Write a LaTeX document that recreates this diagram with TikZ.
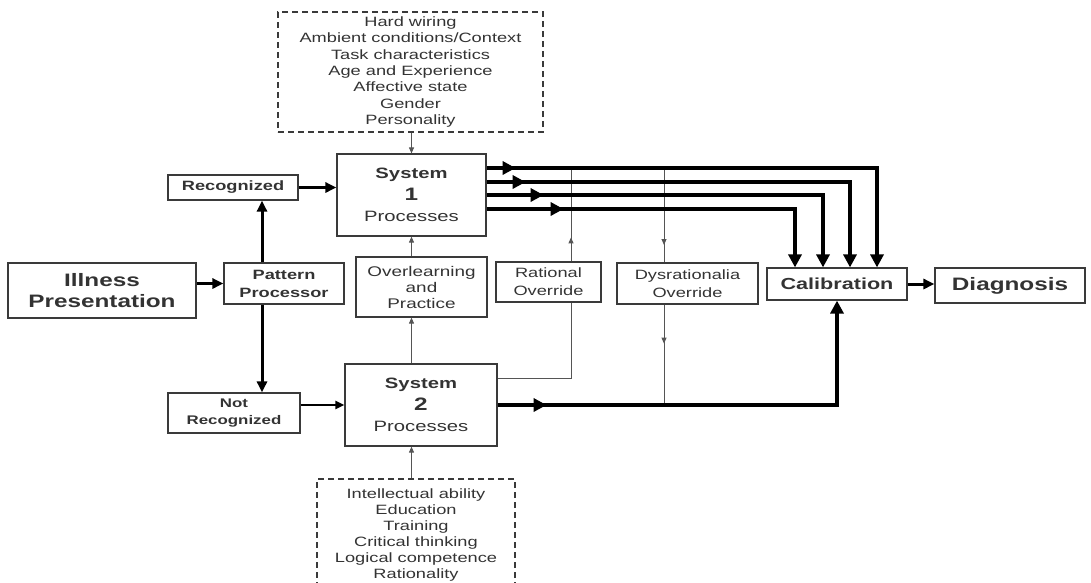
\documentclass[tikz,border=0pt]{standalone}
\usepackage{fontspec}
\setmainfont{Liberation Sans}[FakeStretch=1.35]
\usetikzlibrary{arrows.meta,calc,decorations.markings}
\definecolor{txt}{HTML}{333333}
\definecolor{ln}{HTML}{3a3a3a}
\definecolor{thinln}{HTML}{555555}
\newcommand{\fsz}[2]{\fontsize{#1}{#2}\selectfont}
\tikzset{
  boxn/.style={draw=ln, line width=1.2pt, rectangle, inner sep=0pt, align=center, text=txt},
  dbox/.style={boxn, dash pattern=on 6pt off 4pt},
  bigline/.style={draw=black, line width=4.5pt},
  bigtip/.style={-{Triangle[length=13pt,width=13pt]}, bigline},
  medarr/.style={draw=black, line width=3pt, -{Triangle[length=11pt,width=10pt]}},
  smallarr/.style={draw=black, line width=2pt, -{Triangle[length=9pt,width=8pt]}},
  thinline/.style={draw=thinln, line width=1pt},
  thinarr/.style={thinline, -{Triangle[length=6pt,width=5pt]}},
  midbig/.style={postaction={decorate}, decoration={markings, mark=at position #1 with {\arrow{Triangle[length=13pt,width=13pt]}}}},
  midthin/.style={postaction={decorate}, decoration={markings, mark=at position #1 with {\arrow[thinln]{Triangle[length=6pt,width=5pt]}}}},
  sysbox/.style={boxn, font=\fsz{15}{21.5}},
}
\begin{document}
\begin{tikzpicture}[x=1pt,y=-1pt]
\useasboundingbox (0,0) rectangle (1091,582);
\clip (0,0) rectangle (1091,582);

% nodes
\node[dbox, minimum width=265pt, minimum height=120pt, font=\fsz{13.5}{16.3}] (hw) at (410.5,72)
  {Hard wiring\\Ambient conditions/Context\\Task characteristics\\Age and Experience\\Affective state\\Gender\\Personality};
\node[sysbox, minimum width=149pt, minimum height=82pt] (s1) at (411.5,195)
  {{\bfseries System}\\{\fontsize{18}{21.5}\selectfont\bfseries 1}\\Processes};
\node[boxn, minimum width=130pt, minimum height=25pt, font=\fsz{13.5}{16}\bfseries] (rec) at (233,187.5) {Recognized};
\node[boxn, minimum width=188pt, minimum height=55pt, font=\fsz{18}{21}\bfseries] (ill) at (102,290.5) {Illness\\Presentation};
\node[boxn, minimum width=120pt, minimum height=41pt, font=\fsz{13.5}{18}\bfseries] (pat) at (284,283.5) {Pattern\\Processor};
\node[boxn, minimum width=132pt, minimum height=40pt, font=\fsz{12.5}{17}\bfseries] (notrec) at (234,413) {Not\\Recognized};
\node[sysbox, minimum width=152pt, minimum height=82pt] (s2) at (421,405)
  {{\bfseries System}\\{\fontsize{18}{21.5}\selectfont\bfseries 2}\\Processes};
\node[boxn, minimum width=131pt, minimum height=60pt, font=\fsz{14}{16}] (over) at (421.5,287) {Overlearning\\and\\Practice};
\node[boxn, minimum width=105pt, minimum height=40pt, font=\fsz{13.5}{18}] (rat) at (548.5,282) {Rational\\Override};
\node[boxn, minimum width=141pt, minimum height=41pt, font=\fsz{13.5}{18}] (dys) at (687.5,283.5) {Dysrationalia\\Override};
\node[boxn, minimum width=140pt, minimum height=32pt, font=\fsz{16}{18}\bfseries] (cal) at (837,284) {Calibration};
\node[boxn, minimum width=150pt, minimum height=35pt, font=\fsz{18}{20}\bfseries] (diag) at (1010,285.5) {Diagnosis};
\node[dbox, minimum width=198pt, minimum height=111pt, font=\fsz{13.5}{16}] (bot) at (416,534.5)
  {Intellectual ability\\Education\\Training\\Critical thinking\\Logical competence\\Rationality};

% coordinates of the four System 1 output lines
\coordinate (o1) at ($(s1.east)+(0,-27)$);
\coordinate (o2) at ($(s1.east)+(0,-13)$);
\coordinate (o3) at ($(s1.east)+(0,0)$);
\coordinate (o4) at ($(s1.east)+(0,14)$);
\coordinate (c1) at ($(cal.north)+(40,0)$);
\coordinate (c2) at ($(cal.north)+(13,0)$);
\coordinate (c3) at ($(cal.north)+(-14,0)$);
\coordinate (c4) at ($(cal.north)+(-42,0)$);
\coordinate (ratT) at ($(rat.north)+(22.5,0)$);
\coordinate (ratB) at ($(rat.south)+(22.5,0)$);
\coordinate (dysT) at ($(dys.north)+(-23.5,0)$);
\coordinate (dysB) at ($(dys.south)+(-23.5,0)$);
\coordinate (s2r) at ($(s2.east)+(0,-27)$);
\coordinate (pu) at ($(pat.north)+(-22,0)$);
\coordinate (pd) at ($(pat.south)+(-22,0)$);

% thin connectors
\draw[thinarr] (hw.south -| s1.north) -- (s1.north);
\draw[thinarr] (over.north -| s1.south) -- (s1.south);
\draw[thinarr] (s2.north -| s1.south) -- (over.south -| s1.south);
\draw[thinarr] (bot.north -| s1.south) -- (s2.south -| s1.south);
\draw[thinline] (s2r) -| (ratB);
\draw[thinline, midthin=24pt] (ratT) -- (ratT |- o1);
\draw[thinline, midthin=77pt] (dysT |- o1) -- (dysT);
\draw[thinline, midthin=39pt] (dysB) -- (dysB |- s2.east);

% thick connectors
\draw[bigtip, midbig=29pt] (o1) -| (c1);
\draw[bigtip, midbig=39pt] (o2) -| (c2);
\draw[bigtip, midbig=57pt] (o3) -| (c3);
\draw[bigtip, midbig=77pt] (o4) -| (c4);
\draw[bigtip, midbig=49pt] (s2.east) -| (cal.south);
\draw[medarr] (rec.east) -- (rec.east -| s1.west);
\draw[medarr] (ill.east |- pat.west) -- (pat.west);
\draw[medarr] (pu) -- (pu |- rec.south);
\draw[medarr] (pd) -- (pd |- notrec.north);
\draw[smallarr] (notrec.east |- s2.west) -- (s2.west);
\draw[medarr] (cal.east) -- (cal.east -| diag.west);
\end{tikzpicture}
\end{document}
